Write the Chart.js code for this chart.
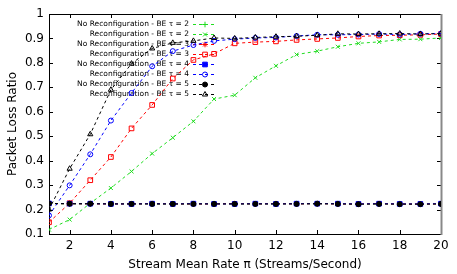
<!DOCTYPE html>
<html>
<head>
<meta charset="utf-8">
<script src="https://cdn.jsdelivr.net/npm/chart.js@4/dist/chart.umd.min.js"></script>
<style>
  html,body{margin:0;padding:0;background:#fff}
  #wrap{width:457px;height:274px}
</style>
</head>
<body>
<div id="wrap"><canvas id="plr"></canvas></div>
<script>
// stream mean rate (x) and axis ticks
const rates = [1,2,3,4,5,6,7,8,9,10,11,12,13,14,15,16,17,18,19,20];
const xTicks = [2,4,6,8,10,12,14,16,18,20];
const yTicks = [0.1,0.2,0.3,0.4,0.5,0.6,0.7,0.8,0.9,1];

const seriesLabels = [
  "No Reconfiguration - BE τ = 2",
  "Reconfiguration - BE τ = 2",
  "No Reconfiguration - BE τ = 3",
  "Reconfiguration - BE τ = 3",
  "No Reconfiguration - BE τ = 4",
  "Reconfiguration - BE τ = 4",
  "No Reconfiguration - BE τ = 5",
  "Reconfiguration - BE τ = 5"
];

// packet loss ratio
const noReconf2 = [0.224,0.223,0.223,0.224,0.223,0.223,0.222,0.223,0.224,0.223,0.223,0.223,0.224,0.223,0.224,0.222,0.223,0.224,0.223,0.223];
const reconf2   = [0.118,0.159,0.226,0.288,0.356,0.429,0.494,0.561,0.652,0.668,0.739,0.788,0.834,0.848,0.866,0.880,0.886,0.896,0.897,0.902];
const noReconf3 = [0.224,0.224,0.223,0.223,0.223,0.224,0.223,0.223,0.223,0.224,0.223,0.224,0.223,0.224,0.223,0.223,0.224,0.223,0.223,0.223];
const reconf3   = [0.148,0.226,0.320,0.415,0.532,0.628,0.736,0.812,0.837,0.880,0.885,0.888,0.894,0.898,0.902,0.908,0.912,0.913,0.915,0.918];
const noReconf4 = [0.225,0.224,0.224,0.223,0.223,0.224,0.223,0.224,0.223,0.223,0.224,0.223,0.224,0.224,0.224,0.223,0.224,0.223,0.223,0.224];
const reconf4   = [0.176,0.299,0.426,0.564,0.677,0.786,0.848,0.873,0.890,0.897,0.902,0.904,0.910,0.915,0.915,0.916,0.918,0.916,0.919,0.920];
const noReconf5 = [0.225,0.224,0.224,0.223,0.223,0.223,0.223,0.223,0.223,0.223,0.223,0.223,0.223,0.224,0.223,0.222,0.223,0.222,0.222,0.223];
const reconf5   = [0.200,0.367,0.508,0.690,0.797,0.859,0.882,0.890,0.902,0.900,0.904,0.907,0.909,0.913,0.919,0.918,0.919,0.920,0.918,0.920];

const GREEN = "#1fdc1f", RED = "#ff0000", BLUE = "#0000ff", BLACK = "#000000";
const FONT = '"DejaVu Sans", sans-serif';

function pts(vals){ return rates.map((r,i)=>({x:r, y:vals[i]})); }

function series(i, vals, color, style, filled){
  let r = 2.5;
  if (style === "rect") r = 3.3;
  if (style === "triangle") r = 3;
  if (style === "cross" || style === "crossRot" || style === "star") r = 2.8;
  return {
    label: seriesLabels[i],
    data: pts(vals),
    borderColor: color,
    borderWidth: 1,
    borderDash: [3,3],
    pointStyle: style,
    pointRadius: r,
    pointBorderWidth: 1,
    pointBorderColor: color,
    pointBackgroundColor: filled ? color : "rgba(0,0,0,0)",
    fill: false,
    tension: 0,
    order: -i
  };
}

// gnuplot-like frame with inward ticks
const framePlugin = {
  id: "frame",
  beforeDatasetsDraw(chart){
    const {ctx, chartArea:a, scales} = chart;
    ctx.save();
    ctx.strokeStyle = "#000"; ctx.lineWidth = 1;
    ctx.beginPath();
    ctx.moveTo(a.left+0.5, a.top+0.5); ctx.lineTo(a.right, a.top+0.5);
    ctx.moveTo(a.left+0.5, a.top); ctx.lineTo(a.left+0.5, a.bottom+0.5);
    ctx.moveTo(a.left, a.bottom+0.5); ctx.lineTo(a.right, a.bottom+0.5);
    xTicks.forEach(v=>{
      const x = Math.round(scales.x.getPixelForValue(v))+0.5;
      ctx.moveTo(x, a.bottom); ctx.lineTo(x, a.bottom-4);
      ctx.moveTo(x, a.top); ctx.lineTo(x, a.top+4);
    });
    yTicks.forEach(v=>{
      const y = Math.round(scales.y.getPixelForValue(v))+0.5;
      ctx.moveTo(a.left, y); ctx.lineTo(a.left+4, y);
      ctx.moveTo(a.right, y); ctx.lineTo(a.right-4, y);
    });
    ctx.stroke();
    ctx.strokeStyle = "#888"; ctx.lineWidth = 2;
    ctx.beginPath(); ctx.moveTo(a.right+0.5, a.top); ctx.lineTo(a.right+0.5, a.bottom+1); ctx.stroke();
    ctx.restore();
  }
};

// key drawn inside the plot, text right aligned, sample to the right
const keyPlugin = {
  id: "key",
  beforeDatasetsDraw(chart){
    const {ctx, chartArea:a} = chart;
    ctx.save();
    ctx.font = "7.5px " + FONT;
    ctx.textAlign = "right"; ctx.textBaseline = "middle";
    chart.data.datasets.forEach((ds,i)=>{
      const y = a.top + 10 + i*10;
      const tx = a.left + 140;
      ctx.fillStyle = "#000";
      ctx.fillText(ds.label, tx, y);
      ctx.strokeStyle = ds.borderColor; ctx.lineWidth = 1;
      ctx.setLineDash([3,3]);
      ctx.beginPath(); ctx.moveTo(tx+4, y+0.5); ctx.lineTo(tx+28, y+0.5); ctx.stroke();
      ctx.setLineDash([]);
      ctx.fillStyle = ds.pointBackgroundColor;
      ctx.strokeStyle = ds.pointBorderColor;
      Chart.helpers.drawPoint(ctx, {pointStyle: ds.pointStyle, radius: ds.pointRadius, borderWidth: 1, rotation: 0}, tx+16, y+0.5);
    });
    ctx.restore();
  }
};

new Chart(document.getElementById("plr").getContext("2d"), {
  type: "line",
  data: {
    datasets: [
      series(0, noReconf2, GREEN, "cross", false),
      series(1, reconf2,   GREEN, "crossRot", false),
      series(2, noReconf3, RED,   "star", false),
      series(3, reconf3,   RED,   "rect", false),
      series(4, noReconf4, BLUE,  "rect", true),
      series(5, reconf4,   BLUE,  "circle", false),
      series(6, noReconf5, BLACK, "circle", true),
      series(7, reconf5,   BLACK, "triangle", false)
    ]
  },
  options: {
    responsive: true,
    maintainAspectRatio: false,
    animation: false,
    layout: { padding: { left: 0, right: 16, top: 14, bottom: 0 } },
    plugins: { legend: { display: false }, tooltip: { enabled: false } },
    scales: {
      x: {
        type: "linear", min: 1, max: 20,
        afterBuildTicks: s => { s.ticks = xTicks.map(v=>({value:v})); },
        afterFit: s => { s.height = 40; },
        grid: { display: false, drawTicks: false },
        border: { display: false },
        ticks: { color: "#000", font: { family: FONT, size: 12 }, padding: 5, maxRotation: 0, autoSkip: false },
        title: { display: true, text: "Stream Mean Rate π (Streams/Second)", color: "#000",
                 font: { family: FONT, size: 12 }, padding: { top: 0, bottom: 2 } }
      },
      y: {
        min: 0.1, max: 1,
        afterBuildTicks: s => { s.ticks = yTicks.map(v=>({value:v})); },
        afterFit: s => { s.width = 49; },
        grid: { display: false, drawTicks: false },
        border: { display: false },
        ticks: { color: "#000", font: { family: FONT, size: 12 }, padding: 5,
                 callback: v => String(Math.round(v*10)/10) },
        title: { display: true, text: "Packet Loss Ratio", color: "#000",
                 font: { family: FONT, size: 12 }, padding: { top: 6, bottom: 0 } }
      }
    }
  },
  plugins: [framePlugin, keyPlugin]
});
</script>
</body>
</html>
